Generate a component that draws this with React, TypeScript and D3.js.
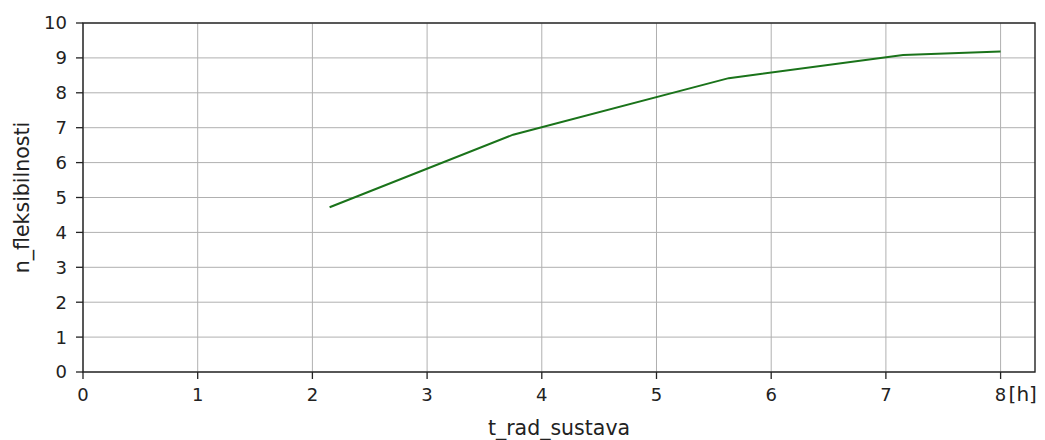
import * as d3 from 'd3'

const hours = [2.15, 3.75, 5.63, 7.15, 8.0]
const flexibility = [4.72, 6.8, 8.42, 9.08, 9.18]
const xTicks = [0, 1, 2, 3, 4, 5, 6, 7, 8]
const yTicks = [0, 1, 2, 3, 4, 5, 6, 7, 8, 9, 10]

const App = () => {
  const width = 1045
  const height = 440
  const margin = { top: 23, right: 10, bottom: 68, left: 83 }
  const font = 'DejaVu Sans, sans-serif'

  const x = d3.scaleLinear().domain([0, 8.3]).range([margin.left, width - margin.right])
  const y = d3.scaleLinear().domain([0, 10]).range([height - margin.bottom, margin.top])

  const line = d3
    .line<number>()
    .x((_, i) => x(hours[i]))
    .y((d) => y(d))

  const [x0, x1] = x.range()
  const [y0, y1] = y.range()

  return (
    <svg width={width} height={height} style={{ position: 'absolute', left: 0, top: 0, background: '#fff' }}>
      <g className="grid" stroke="#b0b0b0" strokeWidth={1}>
        {xTicks.map((t) => (
          <line key={'gx' + t} x1={x(t)} x2={x(t)} y1={y0} y2={y1} />
        ))}
        {yTicks.map((t) => (
          <line key={'gy' + t} x1={x0} x2={x1} y1={y(t)} y2={y(t)} />
        ))}
      </g>
      <path d={line(flexibility) ?? ''} fill="none" stroke="#1a731a" strokeWidth={2} />
      <rect x={x0} y={y1} width={x1 - x0} height={y0 - y1} fill="none" stroke="#222" strokeWidth={1.4} />
      <g className="x-axis" fontFamily={font} fontSize={18} fill="#222">
        {xTicks.map((t) => (
          <g key={'xt' + t}>
            <line x1={x(t)} x2={x(t)} y1={y0} y2={y0 + 7} stroke="#222" strokeWidth={1.3} />
            <text x={x(t)} y={y0 + 29} textAnchor="middle">{t}</text>
          </g>
        ))}
        <text x={x(8) + 8} y={y0 + 29} fontSize={20}>[h]</text>
        <text x={(x0 + x1) / 2} y={y0 + 63} textAnchor="middle" fontSize={20.5}>t_rad_sustava</text>
      </g>
      <g className="y-axis" fontFamily={font} fontSize={18} fill="#222">
        {yTicks.map((t) => (
          <g key={'yt' + t}>
            <line x1={x0 - 7} x2={x0} y1={y(t)} y2={y(t)} stroke="#222" strokeWidth={1.3} />
            <text x={x0 - 16} y={y(t)} dy="0.36em" textAnchor="end">{t}</text>
          </g>
        ))}
        <text
          transform={`translate(${29},${(y0 + y1) / 2}) rotate(-90)`}
          textAnchor="middle"
          fontSize={20.5}
        >
          n_fleksibilnosti
        </text>
      </g>
    </svg>
  )
}

export default App
